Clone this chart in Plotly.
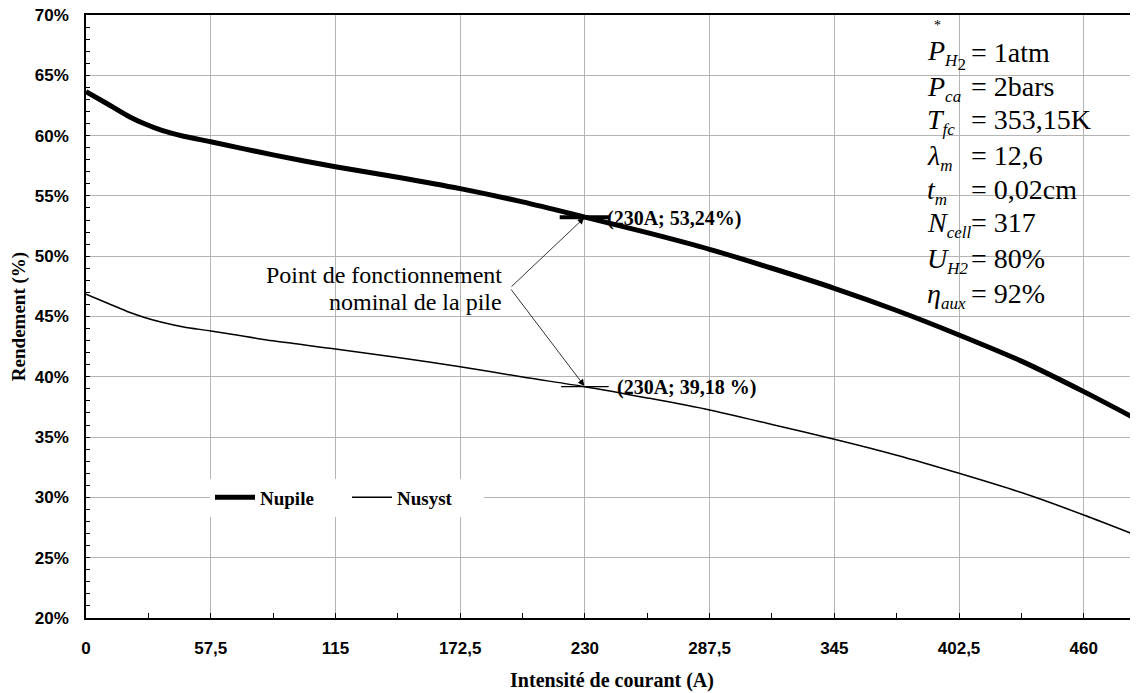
import plotly.graph_objects as go

# ---- data ----
courant = [0, 10, 20, 27, 35, 45, 57.5, 86.25, 115, 143.75, 172.5, 201.25,
           230, 258.75, 287.5, 316.25, 345, 373.75, 402.5, 431.25, 460, 485]
nupile = [63.65, 62.62, 61.57, 60.98, 60.43, 59.95, 59.49, 58.4, 57.42, 56.55, 55.6, 54.5,
          53.24, 51.95, 50.57, 49.0, 47.34, 45.5, 43.47, 41.3, 38.77, 36.42]
nusyst = [46.84, 46.1, 45.35, 44.92, 44.52, 44.13, 43.8, 42.98, 42.3, 41.6, 40.84, 39.98,
          39.18, 38.25, 37.25, 36.05, 34.82, 33.5, 32.0, 30.4, 28.54, 26.8]

nominal_x = [230]
nominal_pile = [53.24]
nominal_syst = [39.18]
nominal_labels = ["(230A; 53,24%)", "(230A; 39,18 %)"]

x_tickvals = [0, 57.5, 115, 172.5, 230, 287.5, 345, 402.5, 460]
x_ticktext = ["0", "57,5", "115", "172,5", "230", "287,5", "345", "402,5", "460"]
y_tickvals = [20, 25, 30, 35, 40, 45, 50, 55, 60, 65, 70]
y_ticktext = [f"{v}%" for v in y_tickvals]

SUB = "<span style='font-size:17px'>{}</span>"
param_symbols = ["<i>P</i><sub><i>" + SUB.format("H") + "</i><sub>" + SUB.format("2") + "</sub></sub>",
                 "<i>P</i><sub><i>" + SUB.format("ca") + "</i></sub>",
                 "<i>T</i><sub><i>" + SUB.format("fc") + "</i></sub>",
                 "<i>λ</i><sub><i>" + SUB.format("m") + "</i></sub>",
                 "<i>t</i><sub><i>" + SUB.format("m") + "</i></sub>",
                 "<i>N</i><sub><i>" + SUB.format("cell") + "</i></sub>",
                 "<i>U</i><sub><i>" + SUB.format("H2") + "</i></sub>",
                 "<i>η</i><sub><i>" + SUB.format("aux") + "</i></sub>"]
param_values = ["= 1atm", "= 2bars", "= 353,15K", "= 12,6", "= 0,02cm", "= 317", "= 80%", "= 92%"]

# ---- layout geometry ----
# the page body has an 8px margin; the figure is sized to fill the rest of the window
OFF = 8
WIN_W, WIN_H = 1138, 693
W, H = WIN_W - OFF, WIN_H - OFF
PL, PT, PB = 86, 15, 618          # plot edges in window pixels
L, T, R = PL - OFF, PT - OFF, 0
B = H - (PB - OFF)
PW, PH = W - L - R, H - T - B
XMAX = 485


def px(xs):
    return (xs - PL) / PW


def py(ys):
    return (PB - ys) / PH


SERIF = "Liberation Serif"
SANS = "Liberation Sans"

fig = go.Figure()
fig.add_trace(go.Scatter(x=courant, y=nupile, mode="lines", name="Nupile",
                         line=dict(color="black", width=5, shape="spline", smoothing=0.8)))
fig.add_trace(go.Scatter(x=courant, y=nusyst, mode="lines", name="Nusyst",
                         line=dict(color="black", width=1.5, shape="spline", smoothing=0.8)))
fig.add_trace(go.Scatter(x=nominal_x, y=nominal_pile, mode="markers", showlegend=False,
                         marker=dict(symbol="line-ew", size=36, color="black",
                                     line=dict(color="black", width=4)), hoverinfo="skip"))
fig.add_trace(go.Scatter(x=nominal_x, y=nominal_syst, mode="markers", showlegend=False,
                         marker=dict(symbol="line-ew", size=34, color="black",
                                     line=dict(color="black", width=1.3)), hoverinfo="skip"))

annotations = []
annotations.append(dict(x=nominal_x[0], y=nominal_pile[0], xref="x", yref="y", text=nominal_labels[0],
                        showarrow=False, xanchor="left", yanchor="middle", xshift=20, yshift=-1,
                        font=dict(family=SERIF, size=20, color="black", weight="bold")))
annotations.append(dict(x=nominal_x[0], y=nominal_syst[0], xref="x", yref="y", text=nominal_labels[1],
                        showarrow=False, xanchor="left", yanchor="middle", xshift=30, yshift=-1,
                        font=dict(family=SERIF, size=20, color="black", weight="bold")))
tail_x, tail_y = 510, 288
for yv in (nominal_pile[0], nominal_syst[0]):
    head_px_x = PL + (nominal_x[0] / XMAX) * PW
    head_px_y = PT + (70 - yv) / 50 * PH
    annotations.append(dict(x=nominal_x[0], y=yv, xref="x", yref="y", text="", showarrow=True,
                            ax=tail_x - head_px_x, ay=tail_y - head_px_y, axref="pixel", ayref="pixel",
                            arrowhead=2, arrowsize=1.6, arrowwidth=0.8, arrowcolor="black",
                            standoff=1))
for line_text, yy in (("Point de fonctionnement", 275), ("nominal de la pile", 302)):
    annotations.append(dict(x=px(504), y=py(yy), xref="paper", yref="paper",
                            text=line_text, showarrow=False,
                            xanchor="right", yanchor="middle", align="right",
                            font=dict(family=SERIF, size=24, color="black")))
row_y = [52, 86, 120, 155, 189, 222, 258, 293]
for sym, val, yy in zip(param_symbols, param_values, row_y):
    annotations.append(dict(x=px(925), y=py(yy + 2), xref="paper", yref="paper", text=sym,
                            showarrow=False, xanchor="left", yanchor="middle",
                            font=dict(family=SERIF, size=28, color="black")))
    annotations.append(dict(x=px(969), y=py(yy), xref="paper", yref="paper", text=val,
                            showarrow=False, xanchor="left", yanchor="middle",
                            font=dict(family=SERIF, size=28, color="black")))
annotations.append(dict(x=px(937), y=py(25), xref="paper", yref="paper", text="*",
                        showarrow=False, xanchor="center", yanchor="middle",
                        font=dict(family=SERIF, size=14, color="black")))

shapes = [
    dict(type="rect", xref="paper", yref="paper", x0=px(908), x1=1.0, y0=py(315), y1=1.0,
         fillcolor="white", line=dict(width=0), layer="between"),
    dict(type="rect", xref="paper", yref="paper", x0=px(250), x1=px(508), y0=py(318), y1=py(258),
         fillcolor="white", line=dict(width=0), layer="between"),
]

fig.update_layout(
    width=W, height=H,
    margin=dict(l=L, r=R, t=T, b=B, autoexpand=False),
    paper_bgcolor="white", plot_bgcolor="white",
    annotations=annotations, shapes=shapes,
    showlegend=True,
    legend=dict(x=px(210), y=py(497.5), xanchor="left", yanchor="middle", orientation="h",
                bgcolor="white", font=dict(family=SERIF, size=19, color="black", weight="bold"),
                itemwidth=40, entrywidth=82, entrywidthmode="pixels",
                traceorder="normal", borderwidth=0),
    xaxis=dict(range=[0, XMAX], tickvals=x_tickvals, ticktext=x_ticktext, automargin=False,
               showgrid=True, gridcolor="#b4b4b4", gridwidth=1,
               showline=True, linecolor="black", linewidth=1.5, mirror=True,
               ticks="inside", ticklen=5, tickcolor="black", ticklabelstandoff=14,
               ticklabeloverflow="allow",
               minor=dict(tickvals=[28.75 + 57.5 * i for i in range(9)], ticks="inside",
                          ticklen=5, tickcolor="black", showgrid=False),
               tickfont=dict(family=SANS, size=17, color="black", weight="bold"),
               title=dict(text="Intensité de courant (A)", standoff=16,
                          font=dict(family=SERIF, size=20, color="black", weight="bold")),
               zeroline=False),
    yaxis=dict(range=[20, 70], tickvals=y_tickvals, ticktext=y_ticktext, automargin=False,
               showgrid=True, gridcolor="#b4b4b4", gridwidth=1,
               showline=True, linecolor="black", linewidth=1.5,
               ticks="inside", ticklen=4, tickcolor="black", ticklabelstandoff=12,
               ticklabeloverflow="allow",
               minor=dict(dtick=1, tick0=20, ticks="inside", ticklen=4, tickcolor="black",
                          showgrid=False),
               tickfont=dict(family=SANS, size=17, color="black", weight="bold"),
               title=dict(text="Rendement (%)", standoff=6,
                          font=dict(family=SERIF, size=19, color="black", weight="bold")),
               zeroline=False),
)

fig.write_html("out.html")
